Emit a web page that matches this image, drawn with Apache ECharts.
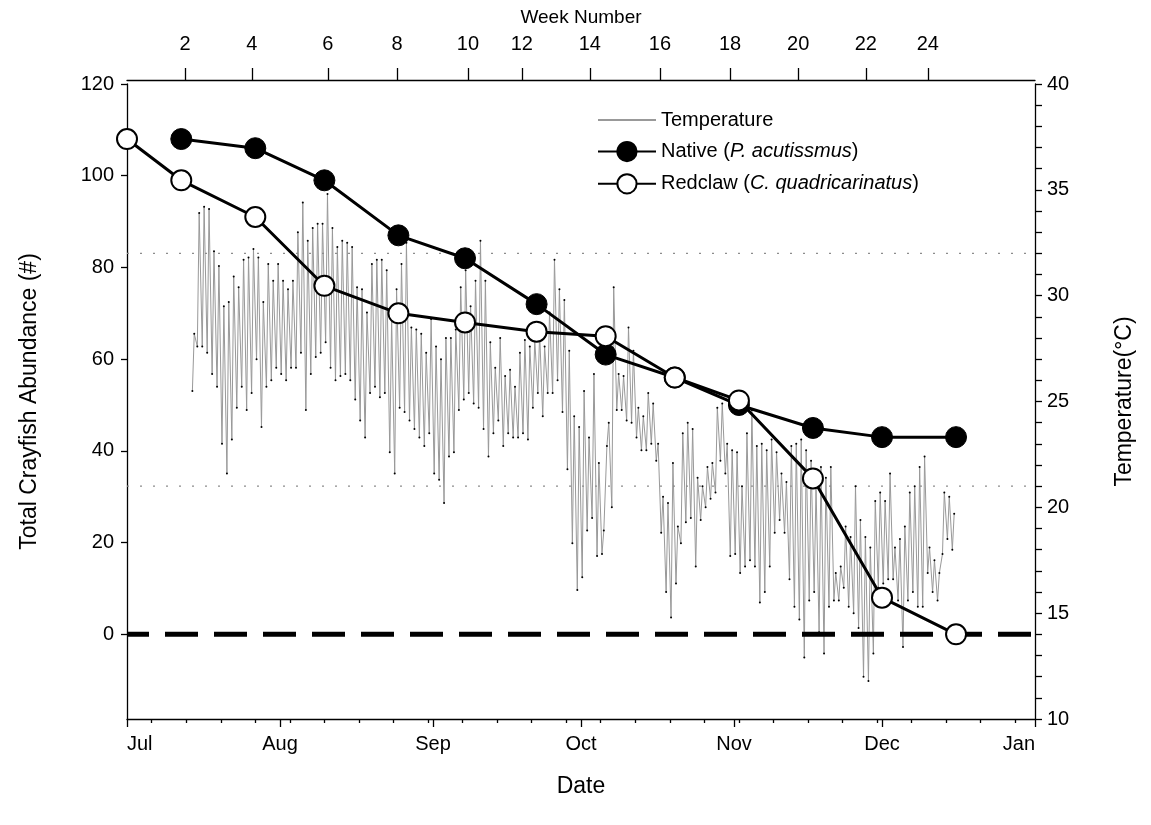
<!DOCTYPE html>
<html><head><meta charset="utf-8">
<script src="https://cdn.jsdelivr.net/npm/echarts@6/dist/echarts.min.js"></script>
<style>html,body{margin:0;padding:0;background:#fff}#chart{width:1151px;height:825px}</style>
</head><body><div id="chart"></div>
<script>
const FONT = '"Liberation Sans", Arial, Helvetica, sans-serif';

// ---- axis tick labels ----
const monthTickDates = ['2014-07-01','2014-08-01','2014-09-01','2014-10-01','2014-11-01','2014-12-01','2015-01-01'];
const monthLabels = ['Jul','Aug','Sep','Oct','Nov','Dec','Jan'];
const weeklyTickDates = ['2014-07-06','2014-07-13','2014-07-20','2014-07-27','2014-08-03','2014-08-10','2014-08-17','2014-08-24','2014-08-31',
  '2014-09-07','2014-09-14','2014-09-21','2014-09-28','2014-10-05','2014-10-12','2014-10-19','2014-10-26','2014-11-02','2014-11-09',
  '2014-11-16','2014-11-23','2014-11-30','2014-12-07','2014-12-14','2014-12-21','2014-12-28'];
const weekLabels = [2,4,6,8,10,12,14,16,18,20,22,24];
const weekTickDates = ['2014-07-12T18:00','2014-07-26T07:00','2014-08-10T17:00','2014-08-24T17:00','2014-09-08T02:00','2014-09-19T00:00',
  '2014-10-02T19:00','2014-10-17T00:00','2014-10-31T05:00','2014-11-14T00:00','2014-11-27T17:00','2014-12-10T07:00'];
const abundanceTicks = [0,20,40,60,80,100,120];

// ---- crayfish abundance ----
const nativeDates = ['2014-07-12','2014-07-27','2014-08-10','2014-08-25','2014-09-07T12:00','2014-09-22','2014-10-06','2014-10-20','2014-11-02','2014-11-17','2014-12-01','2014-12-16'];
const nativeAbundance = [108,106,99,87,82,72,61,56,50,45,43,43];
const redclawDates = ['2014-07-01','2014-07-12','2014-07-27','2014-08-10','2014-08-25','2014-09-07T12:00','2014-09-22','2014-10-06','2014-10-20','2014-11-02','2014-11-17','2014-12-01','2014-12-16'];
const redclawAbundance = [108,99,91,76,70,68,66,65,56,51,34,8,0];

// ---- water temperature (daily min / max, from 14 Jul) ----
const tempStartDate = '2014-07-14';
const tempMax = [28.2,33.9,34.2,34.1,32.1,31.4,29.5,29.7,30.9,30.4,31.7,31.8,32.2,31.8,29.7,31.5,30.7,31.5,30.7,30.3,
  30.7,33.0,34.4,32.6,33.2,33.4,33.4,34.8,33.2,32.3,32.6,32.5,32.3,30.4,30.3,29.2,31.5,31.7,31.7,31.2,
  28.9,30.3,31.5,32.5,28.5,28.4,28.2,27.3,28.9,27.6,27.0,28.0,28.0,28.4,30.4,31.2,29.5,30.7,32.6,30.7,
  27.8,26.6,28.0,26.2,26.5,25.7,27.3,27.9,27.6,27.9,28.2,27.6,29.2,31.7,30.3,29.8,27.4,24.3,23.8,25.5,
  23.3,26.3,22.1,18.9,24.0,30.4,26.3,26.2,28.5,27.4,24.7,24.3,25.4,24.9,23.0,20.5,20.2,22.1,19.1,23.5,
  24.0,23.7,21.4,21.0,21.9,22.1,24.7,24.9,23.0,22.7,22.6,21.0,23.5,24.6,22.9,23.0,22.7,23.2,22.6,21.6,
  21.2,22.9,23.0,23.2,22.7,22.2,21.0,21.9,21.4,21.9,16.9,17.2,19.1,18.6,21.0,19.4,18.6,18.1,20.3,20.7,
  20.3,21.6,18.1,18.5,19.1,20.7,21.0,21.9,22.4,18.1,17.5,16.9,20.7,20.5,19.7];
const tempMin = [25.5,27.6,27.6,27.3,26.3,25.7,23.0,21.6,23.2,24.7,25.7,24.6,25.4,27.0,23.8,25.7,26.0,26.6,26.3,26.0,
  26.6,26.6,27.3,24.6,26.3,27.1,27.3,27.8,26.6,26.0,26.2,26.3,26.0,25.1,24.1,23.3,25.4,25.7,25.2,25.4,
  22.6,21.6,24.7,24.5,24.1,23.7,23.3,22.9,23.5,21.6,21.3,20.2,22.4,22.6,24.6,25.1,25.4,24.9,24.7,23.7,
  22.4,23.5,24.1,22.9,23.5,23.3,23.3,23.5,23.2,24.7,25.4,24.3,25.4,25.4,26.0,24.5,21.8,18.3,16.1,16.7,
  18.9,19.5,17.7,17.8,22.9,20.0,24.6,24.6,24.1,24.0,23.3,22.7,22.7,23.0,22.2,18.8,16.0,14.8,16.4,18.3,
  19.3,19.5,17.2,19.4,20.0,20.4,20.7,22.2,21.6,17.7,17.8,16.9,17.2,17.5,17.2,15.5,16.0,17.2,18.8,19.4,
  18.8,16.6,15.3,14.7,12.9,15.6,16.0,14.1,13.1,15.3,15.6,15.6,16.2,15.3,15.0,14.3,12.0,11.8,13.1,16.2,
  16.4,16.6,16.6,15.6,13.4,15.6,16.0,15.3,15.3,16.9,16.0,15.6,17.8,18.5,18.0];
const thresholdTemps = [32, 21];
const zeroLine = 0;

// ---- helpers ----
const ts = s => Date.parse(s.length === 10 ? s + 'T00:00:00Z' : s + ':00Z');
const X_MIN = ts(monthTickDates[0]);
const X_MAX = ts(monthTickDates[monthTickDates.length - 1]);
const monthTicks = monthTickDates.map(ts);
const weeklyTicks = weeklyTickDates.map(ts);
const weekTicks = weekTickDates.map(ts);
const DAY = 86400000;
const tStart = ts(tempStartDate);
const tempPoints = [];
for (let i = 0; i < tempMax.length; i++) {
  tempPoints.push([tStart + i * DAY + 6 * 3600000, tempMin[i]]);
  tempPoints.push([tStart + i * DAY + 15 * 3600000, tempMax[i]]);
}
const nativeData = nativeDates.map((d, i) => [ts(d), nativeAbundance[i]]);
const redclawData = redclawDates.map((d, i) => [ts(d), redclawAbundance[i]]);
const lookup = (arr, labels) => v => { const i = arr.findIndex(a => Math.abs(a - v) < 1000); return i < 0 ? '' : String(labels[i]); };

const txt = { fontFamily: FONT, color: '#000' };
const axisLine = { show: true, onZero: false, lineStyle: { color: '#000', width: 1.3 } };

const option = {
  animation: false,
  backgroundColor: '#fff',
  textStyle: { fontFamily: FONT },
  grid: { left: 127, right: 116, top: 84, bottom: 106, containLabel: false },
  legend: {
    orient: 'vertical', left: 592, top: 105,
    itemWidth: 58, itemHeight: 24, itemGap: 11,
    data: [
      { name: 'Temperature', itemStyle: { color: 'rgba(0,0,0,0)', borderColor: 'rgba(0,0,0,0)' } },
      'Native', 'Redclaw'
    ],
    formatter: name => ({
      Temperature: 'Temperature',
      Native: 'Native ({i|P. acutissmus})',
      Redclaw: 'Redclaw ({i|C. quadricarinatus})'
    })[name],
    textStyle: { ...txt, fontSize: 20, rich: { i: { fontFamily: FONT, fontSize: 20, fontStyle: 'italic', color: '#000' } } }
  },
  xAxis: [
    {
      type: 'value', position: 'bottom', min: X_MIN, max: X_MAX,
      name: 'Date', nameLocation: 'middle', nameGap: 56,
      nameTextStyle: { ...txt, fontSize: 23 },
      axisLine,
      axisTick: { show: true, length: 8, lineStyle: { color: '#000', width: 1.3 }, customValues: monthTicks },
      axisLabel: { ...txt, fontSize: 20, margin: 15, customValues: monthTicks, formatter: lookup(monthTicks, monthLabels),
        alignMinLabel: 'left', alignMaxLabel: 'right' },
      splitLine: { show: false }
    },
    {
      type: 'value', position: 'bottom', min: X_MIN, max: X_MAX,
      axisLine: { show: false, onZero: false },
      axisTick: { show: true, length: 4, lineStyle: { color: '#000', width: 1.3 }, customValues: weeklyTicks },
      axisLabel: { show: false },
      splitLine: { show: false }
    },
    {
      type: 'value', position: 'top', offset: 4, min: X_MIN, max: X_MAX,
      name: 'Week Number', nameLocation: 'middle', nameGap: 53,
      nameTextStyle: { ...txt, fontSize: 19 },
      axisLine,
      axisTick: { show: true, length: 12, lineStyle: { color: '#000', width: 1.3 }, customValues: weekTicks },
      axisLabel: { ...txt, fontSize: 20, margin: 26, customValues: weekTicks, formatter: lookup(weekTicks, weekLabels) },
      splitLine: { show: false }
    }
  ],
  yAxis: [
    {
      type: 'value', position: 'left', min: -240 / 13, max: 120,
      name: 'Total Crayfish Abundance (#)', nameLocation: 'middle', nameRotate: 90, nameGap: 86,
      nameTextStyle: { ...txt, fontSize: 23 },
      axisLine,
      axisTick: { show: true, length: 6, lineStyle: { color: '#000', width: 1.3 }, customValues: abundanceTicks },
      axisLabel: { ...txt, fontSize: 20, margin: 13, customValues: abundanceTicks },
      splitLine: { show: false }
    },
    {
      type: 'value', position: 'right', min: 10, max: 40, interval: 5,
      name: 'Temperature(°C)', nameLocation: 'middle', nameRotate: 90, nameGap: 78,
      nameTextStyle: { ...txt, fontSize: 23 },
      axisLine,
      axisTick: { show: true, length: 7, lineStyle: { color: '#000', width: 1.3 } },
      minorTick: { show: true, splitNumber: 5, length: 7, lineStyle: { color: '#000', width: 1.3 } },
      axisLabel: { ...txt, fontSize: 20, margin: 12 },
      splitLine: { show: false }
    }
  ],
  series: [
    {
      name: 'Temperature', type: 'line', xAxisIndex: 0, yAxisIndex: 1, data: tempPoints,
      symbol: 'circle', symbolSize: 2, showSymbol: true,
      itemStyle: { color: '#000' },
      lineStyle: { color: '#999999', width: 1 },
      z: 1, silent: true
    },
    ...thresholdTemps.map(t => ({
      name: 'limit' + t, type: 'line', xAxisIndex: 0, yAxisIndex: 1,
      data: [[X_MIN, t], [X_MAX, t]], symbol: 'none',
      lineStyle: { color: '#8c8c8c', width: 1.2, type: [2, 11] }, z: 1, silent: true
    })),
    {
      name: 'zero', type: 'line', xAxisIndex: 0, yAxisIndex: 0,
      data: [[X_MIN, zeroLine], [X_MAX, zeroLine]], symbol: 'none',
      lineStyle: { color: '#000', width: 5, type: [33, 16], dashOffset: 11, cap: 'butt' }, z: 2, silent: true
    },
    {
      name: 'Native', type: 'line', xAxisIndex: 0, yAxisIndex: 0, data: nativeData,
      symbol: 'circle', symbolSize: 21,
      itemStyle: { color: '#000', borderColor: '#000', borderWidth: 1 },
      lineStyle: { color: '#000', width: 3 }, z: 3
    },
    {
      name: 'Redclaw', type: 'line', xAxisIndex: 0, yAxisIndex: 0, data: redclawData,
      symbol: 'circle', symbolSize: 20,
      itemStyle: { color: '#fff', borderColor: '#000', borderWidth: 2 },
      lineStyle: { color: '#000', width: 3 }, z: 4
    }
  ]
};
const chart = echarts.init(document.getElementById('chart'), null, { renderer: 'canvas' });
chart.setOption(option);
</script>
</body></html>
